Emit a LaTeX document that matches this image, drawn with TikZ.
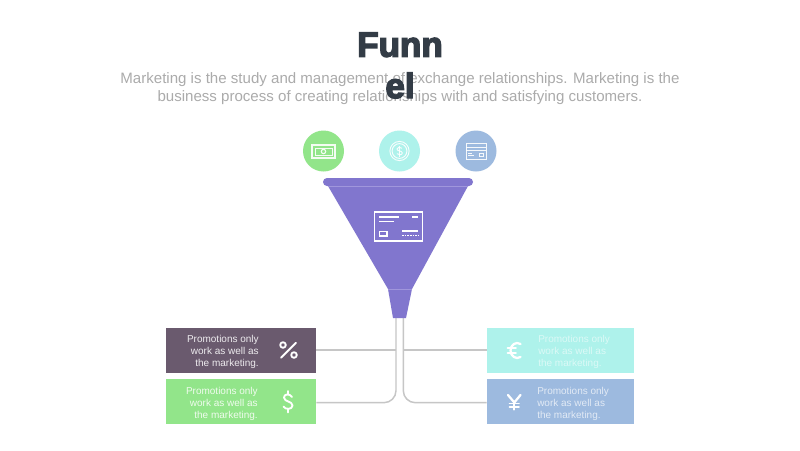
\documentclass[tikz,border=0pt]{standalone}
\usepackage{fontspec}
\setmainfont{Liberation Sans}
\newfontfamily\titlefont[FakeBold=4]{Liberation Sans Bold}
\definecolor{ink}{HTML}{333C46}
\definecolor{subgray}{HTML}{ABABAB}
\definecolor{plum}{HTML}{6A5A6E}
\definecolor{mint}{HTML}{92E58A}
\definecolor{aqua}{HTML}{AEF2EB}
\definecolor{steel}{HTML}{9DBADF}
\definecolor{violet}{HTML}{8176CE}
\definecolor{rimline}{HTML}{A096DC}
\definecolor{wire}{HTML}{C6C6C6}
\tikzset{
  x=0.75pt,y=-0.75pt,
  infobox/.style={rectangle,minimum width=112.5pt,minimum height=33.75pt,inner sep=0pt},
  infotext/.style={font=\fontsize{7.5pt}{9pt}\selectfont,inner sep=0pt},
  disc/.style={circle,minimum size=30.75pt,inner sep=0pt},
  icon/.style={draw=white,line width=1.4pt,line cap=round,line join=round},
  cardline/.style={draw=white,line width=1.1pt},
  fineicon/.style={draw=white,line width=0.7pt,opacity=.9},
  wireline/.style={draw=wire,line width=1.1pt}
}
\begin{document}
\begin{tikzpicture}
\useasboundingbox (0,0) rectangle (800,450);
\fill[white] (0,0) rectangle (800,450);
% connectors
\coordinate (stemL) at (396,316);
\coordinate (stemR) at (403.3,316);
\node[infobox,fill=plum] (boxA) at (241,350) {};
\node[infobox,fill=mint] (boxB) at (241,401.6) {};
\node[infobox,fill=aqua,minimum width=110.25pt] (boxC) at (560.5,350) {};
\node[infobox,fill=steel,minimum width=110.25pt] (boxD) at (560.5,401.6) {};
\draw[wireline] (boxA.east) -- (stemL |- boxA.east);
\draw[wireline] (boxC.west) -- (stemR |- boxC.west);
\draw[wireline,rounded corners=9pt] (stemL) |- ([yshift=-0.8pt]boxB.east);
\draw[wireline,rounded corners=9pt] (stemR) |- ([yshift=-0.8pt]boxD.west);
% funnel
\fill[violet] (328,186) -- (468,186) -- (412,289) -- (406,318) -- (393,318) -- (388,289) -- cycle;
\fill[violet,rounded corners=3pt] (323,178) rectangle (473,186);
\draw[rimline,line width=.5pt] (328,186.3) -- (468,186.3);
\draw[rimline,line width=.5pt] (388,289) -- (412,289);
% card in funnel
\draw[cardline] (374.5,212) rectangle (422.5,241);
\draw[cardline] (379,217) -- (399,217) (412,217) -- (418,217) (379,221.5) -- (394,221.5) (402,231) -- (418,231);
\draw[cardline] (379.5,231.5) rectangle (387,236);
\draw[cardline,dash pattern=on 1.2pt off .8pt] (402,235.7) -- (419,235.7);
% discs
\node[disc,fill=mint] (discA) at (323.5,151) {};
\node[disc,fill=aqua] (discB) at (399.5,151) {};
\node[disc,fill=steel] (discC) at (476,151) {};
% money
\draw[fineicon,line width=1pt] (312,145) rectangle (335,158);
\draw[fineicon] (315,148) -- (332,148) -- (332,155) -- (315,155) -- cycle;
\draw[fineicon,line width=.8pt] (323.5,151.5) circle (2.2);
% coin
\draw[fineicon] (399.5,151) circle (9.6);
\draw[fineicon] (399.5,151) circle (7.4);
\draw[fineicon] (402,148.3) .. controls (400.5,146.5) and (397,147) .. (397,149) .. controls (397,151.5) and (402.3,150.5) .. (402.3,153) .. controls (402.3,155) and (398.5,155.5) .. (396.9,153.7);
\draw[fineicon] (399.5,145.5) -- (399.5,156.5);
% card small
\draw[fineicon] (466,143.5) rectangle (486,159);
\draw[fineicon] (466,147) -- (486,147) (466,150) -- (486,150);
\draw[fineicon] (468,153.5) -- (472,153.5) (468,155.8) -- (474,155.8);
\draw[fineicon] (479.5,153) rectangle (483.5,156);
% subtitle, then title over it
\node[align=center,inner sep=0pt,text=subgray,font=\fontsize{11.3pt}{13.6pt}\selectfont] (subtitle) at (400,88.5) {Marketing is the study and management of exchange relationships. Marketing is the\\business process of creating relationships with and satisfying customers.};
\node[align=center,inner sep=0pt,text=ink,font=\titlefont\fontsize{26.25pt}{31pt}\selectfont] (title) at (400,65.5) {Funn\\el};
% box texts
\node[infotext,align=right,anchor=east,text=white!88!plum] (textA) at (259,351.5) {Promotions only\\work as well as\\the marketing.};
\node[infotext,align=right,anchor=east,text=white!85!mint] (textB) at (258,403.5) {Promotions only\\work as well as\\the marketing.};
\node[infotext,align=left,anchor=west,text=white!55!aqua] (textC) at (538,351.5) {Promotions only\\work as well as\\the marketing.};
\node[infotext,align=left,anchor=west,text=white!70!steel] (textD) at (537,403.5) {Promotions only\\work as well as\\the marketing.};
% percent
\draw[icon] (281,357.7) -- (296,342.7);
\draw[icon] (283,345) circle (2.8);
\draw[icon] (294,355) circle (2.8);
% dollar
\draw[icon] (292,397) .. controls (290,393.5) and (284,393.5) .. (284,397.5) .. controls (284,402) and (292.5,401) .. (292.5,405.5) .. controls (292.5,409.8) and (285,409.8) .. (283.5,406.5);
\draw[icon] (288,391) -- (288,394) (288,409) -- (288,412.5);
% euro
\draw[icon,line width=1.7pt] (520.5,344) .. controls (516,341) and (510.5,345) .. (510.5,350.5) .. controls (510.5,356) and (516,360) .. (520.5,357);
\draw[icon] (507.5,348) -- (516,348) (507.5,353) -- (516,353);
% yen
\draw[icon,line width=1.7pt] (508,395) -- (514.3,402.5) -- (520.5,395);
\draw[icon,line width=1.7pt] (514.3,402.5) -- (514.3,409.5);
\draw[icon,line width=1.2pt] (509.5,403.5) -- (519,403.5) (509.5,406.8) -- (519,406.8);
\end{tikzpicture}
\end{document}
